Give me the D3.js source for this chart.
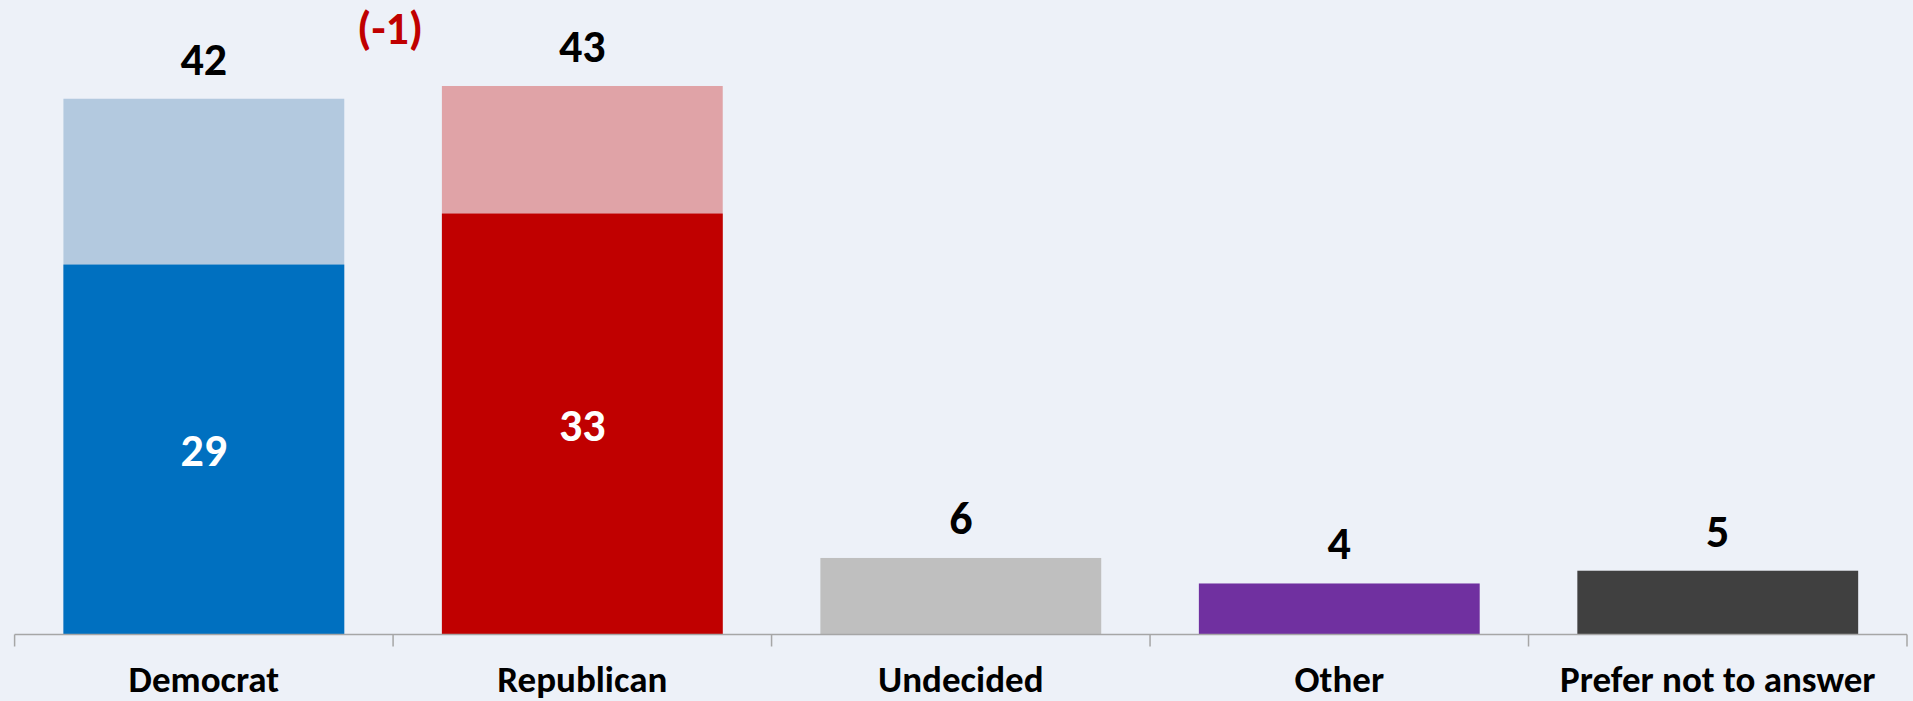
<!DOCTYPE html>
<html><head><meta charset="utf-8">
<script src="https://cdn.jsdelivr.net/npm/d3@7"></script>
<style>html,body{margin:0;padding:0;background:#EDF1F8;overflow:hidden}</style>
</head><body>
<svg id="chart" width="1913" height="701"></svg>
<script>
const categories = ["Democrat", "Republican", "Undecided", "Other", "Prefer not to answer"];
const totals = [42, 43, 6, 4, 5];
const strong = [29, 33, null, null, null];
const darkColors = ["#0070C0", "#C00000", "#BFBFBF", "#7030A0", "#404040"];
const lightColors = ["#B3C9DF", "#E0A3A7", null, null, null];
const changeLabel = "(-1)";

const W = 1913, H = 701;
const svg = d3.select("#chart");
svg.append("rect").attr("width", W).attr("height", H).attr("fill", "#EDF1F8");

const font = "Carlito, Lato, 'Liberation Sans', sans-serif";
const x = d3.scaleBand().domain(categories).range([14.6, 1907]).padding(0);
const y = d3.scaleLinear().domain([0, 50]).range([634.5, -3.3]);
const inset = x.bandwidth() * 0.129;
const bw = x.bandwidth() - 2 * inset;

const data = categories.map((c, i) => ({c, total: totals[i], strong: strong[i], dark: darkColors[i], light: lightColors[i]}));

svg.selectAll("rect.total").data(data).join("rect")
  .attr("x", d => x(d.c) + inset).attr("width", bw)
  .attr("y", d => y(d.total)).attr("height", d => y(0) - y(d.total))
  .attr("fill", d => d.light || d.dark);

svg.selectAll("rect.strong").data(data.filter(d => d.strong != null)).join("rect")
  .attr("x", d => x(d.c) + inset).attr("width", bw)
  .attr("y", d => y(d.strong)).attr("height", d => y(0) - y(d.strong))
  .attr("fill", d => d.dark);

const axisG = svg.append("g").attr("transform", `translate(0,${y(0)})`);
axisG.call(d3.axisBottom(x).tickSize(0).tickPadding(0));
axisG.select(".domain").remove();
axisG.append("line").attr("x1", x.range()[0]).attr("x2", x.range()[1])
  .attr("stroke", "#A6A6A6").attr("stroke-width", 1.5);
const bounds = categories.map(c => x(c)).concat([x.range()[1]]);
axisG.selectAll("line.bt").data(bounds).join("line").attr("class", "bt")
  .attr("x1", d => d).attr("x2", d => d).attr("y1", 0).attr("y2", 12)
  .attr("stroke", "#A6A6A6").attr("stroke-width", 1.5);
axisG.selectAll(".tick text")
  .attr("y", 57).attr("dy", null)
  .attr("font-family", font).attr("font-weight", "bold").attr("font-size", 37)
  .attr("fill", "#000");

svg.selectAll("text.val").data(data).join("text")
  .attr("x", d => x(d.c) + x.bandwidth() / 2)
  .attr("y", d => y(d.total) - 24)
  .attr("text-anchor", "middle")
  .attr("font-family", font).attr("font-weight", "bold").attr("font-size", 46)
  .attr("fill", "#000").text(d => d.total);

svg.selectAll("text.in").data(data.filter(d => d.strong != null)).join("text")
  .attr("x", d => x(d.c) + x.bandwidth() / 2)
  .attr("y", d => (y(d.strong) + y(0)) / 2)
  .attr("dy", "0.36em")
  .attr("text-anchor", "middle")
  .attr("font-family", font).attr("font-weight", "bold").attr("font-size", 46)
  .attr("fill", "#fff").text(d => d.strong);

svg.append("text")
  .attr("x", x(categories[1]) - 3).attr("y", 44)
  .attr("text-anchor", "middle")
  .attr("font-family", font).attr("font-weight", "bold").attr("font-size", 46)
  .attr("fill", "#C00000").text(changeLabel);
</script>
</body></html>
